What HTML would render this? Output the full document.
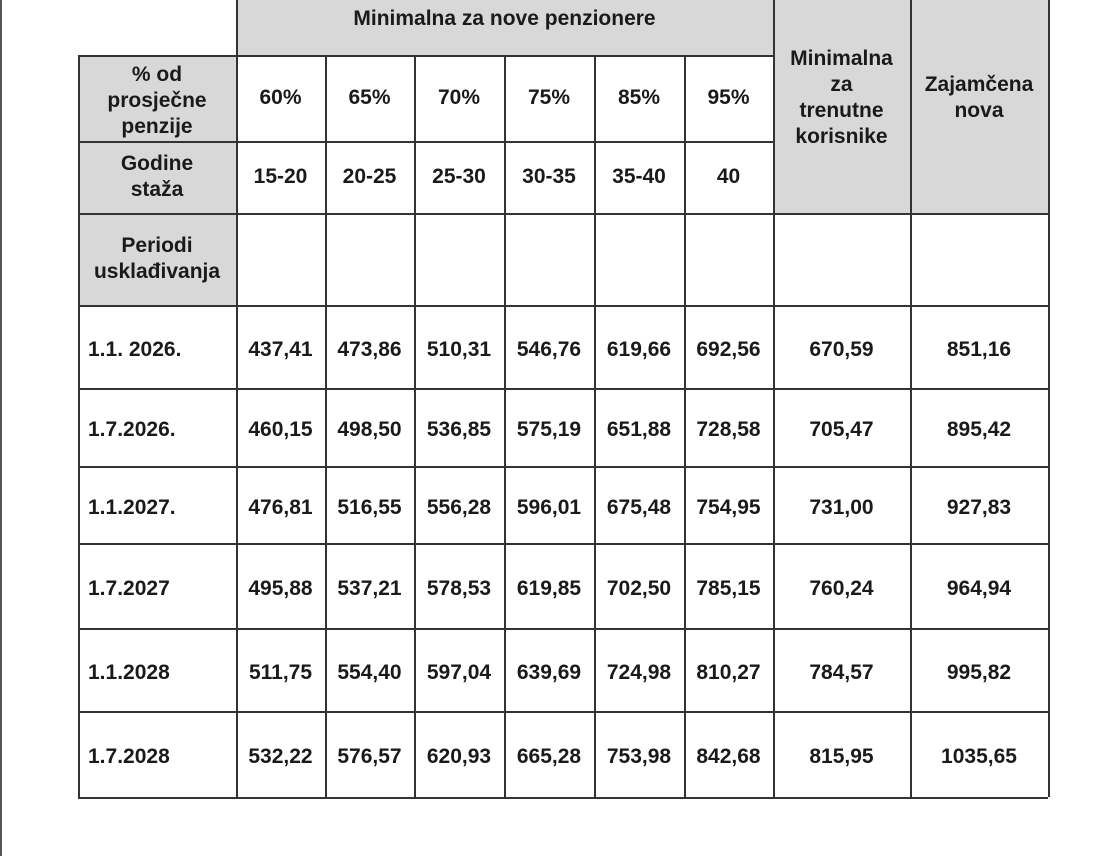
<!DOCTYPE html>
<html><head><meta charset="utf-8"><style>
body{margin:0;width:1112px;height:856px;background:#fff;position:relative;overflow:hidden;font-family:"Liberation Sans",Arial,sans-serif;font-weight:bold;color:#1a1a1a}
.c{position:absolute;display:flex;align-items:center;justify-content:center;text-align:center;font-size:21px;line-height:26px;box-sizing:border-box;white-space:nowrap}
.g{background:#d8d8d8}
.h{position:absolute;background:#333;height:1.5px}
.v{position:absolute;background:#333;width:1.5px}
</style></head><body>
<div style="position:absolute;left:0;top:0;width:2px;height:856px;background:#555"></div>
<div class="c g" style="left:236px;top:0;width:537px;height:55px;align-items:flex-start;padding-top:6px">Minimalna za nove penzionere</div>
<div class="c g" style="left:78px;top:55px;width:158px;height:250px"></div>
<div class="c g" style="left:773px;top:0;width:275px;height:213px"></div>
<div class="c" style="left:78px;top:58px;width:158px;height:86px">% od<br>prosječne<br>penzije</div>
<div class="c" style="left:78px;top:141px;width:158px;height:72px">Godine<br>staža</div>
<div class="c" style="left:78px;top:213px;width:158px;height:92px">Periodi<br>usklađivanja</div>
<div class="c" style="left:773px;top:46px;width:137px;height:120px;align-items:flex-start">Minimalna<br>za<br>trenutne<br>korisnike</div>
<div class="c" style="left:910px;top:72px;width:138px;height:60px;align-items:flex-start">Zajamčena<br>nova</div>
<div id="t"></div>
<script>
var xs=[78,236,325,414,504,594,684,773,910,1048];
var ys=[55,141,213,305,388,466,543,628,711,797];
var pct=["60%","65%","70%","75%","85%","95%"],god=["15-20","20-25","25-30","30-35","35-40","40"];
var rows=[["1.1. 2026.","437,41","473,86","510,31","546,76","619,66","692,56","670,59","851,16"],
["1.7.2026.","460,15","498,50","536,85","575,19","651,88","728,58","705,47","895,42"],
["1.1.2027.","476,81","516,55","556,28","596,01","675,48","754,95","731,00","927,83"],
["1.7.2027","495,88","537,21","578,53","619,85","702,50","785,15","760,24","964,94"],
["1.1.2028","511,75","554,40","597,04","639,69","724,98","810,27","784,57","995,82"],
["1.7.2028","532,22","576,57","620,93","665,28","753,98","842,68","815,95","1035,65"]];
var h="";
function cell(x,y,w,hh,t,st){h+='<div class="c" style="left:'+x+'px;top:'+y+'px;width:'+w+'px;height:'+hh+'px;'+(st||'')+'">'+t+'</div>';}
for(var i=0;i<6;i++){cell(xs[i+1],55,xs[i+2]-xs[i+1],86,pct[i]);cell(xs[i+1],141,xs[i+2]-xs[i+1],72,god[i]);}
for(var r=0;r<6;r++){var y=ys[r+3]+3,hh=ys[r+4]-ys[r+3];
 cell(xs[0],y,158,hh,rows[r][0],"justify-content:flex-start;padding-left:10px");
 for(var c=1;c<9;c++)cell(xs[c],y,xs[c+1]-xs[c],hh,rows[r][c]);}
h+='<div class="h" style="left:236px;top:55px;width:537px"></div>';
h+='<div class="h" style="left:78px;top:55px;width:158px"></div>';
h+='<div class="h" style="left:78px;top:141px;width:695px"></div>';
for(var k=2;k<ys.length;k++){h+='<div class="h" style="left:78px;top:'+ys[k]+'px;width:970px"></div>';}
h+='<div class="v" style="left:78px;top:55px;height:742px"></div>';
h+='<div class="v" style="left:236px;top:0;height:797px"></div>';
for(var k=2;k<7;k++)h+='<div class="v" style="left:'+xs[k]+'px;top:55px;height:742px"></div>';
for(var k=7;k<10;k++)h+='<div class="v" style="left:'+xs[k]+'px;top:0;height:797px"></div>';
document.getElementById('t').innerHTML=h;
</script>
</body></html>
